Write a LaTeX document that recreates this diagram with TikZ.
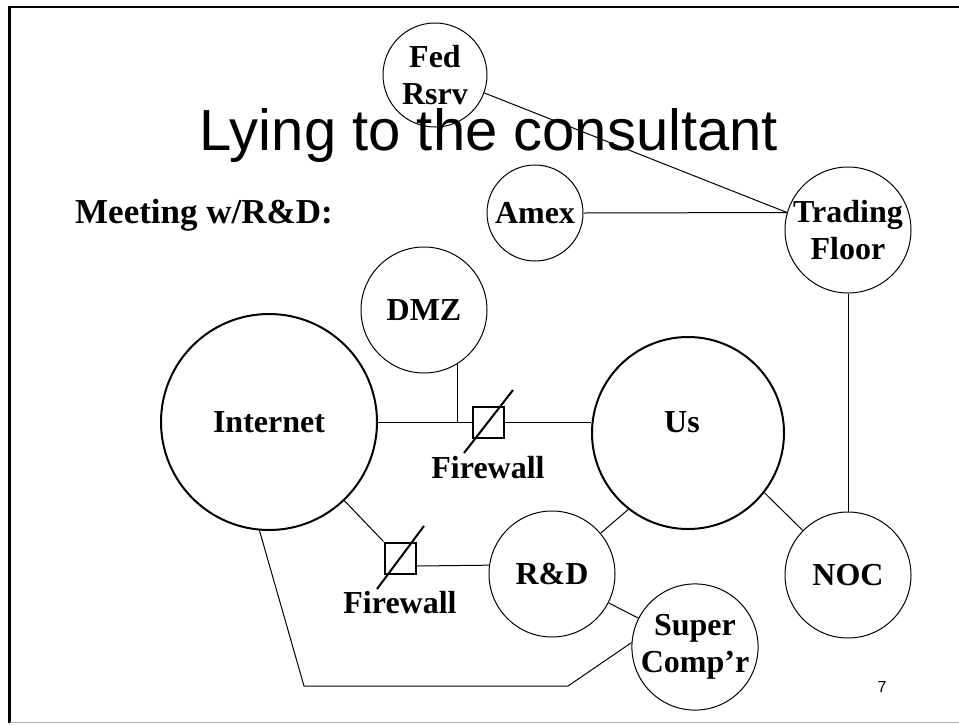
\documentclass[tikz,border=0pt]{standalone}
\usepackage{fontspec}
\setmainfont{Liberation Serif}
\newfontfamily\titlefont{Liberation Sans}
\begin{document}
\begin{tikzpicture}[x=1pt,y=-1pt,
  net/.style={circle,draw,line width=1pt,inner sep=0pt,align=center,
    font=\fontsize{32}{37}\selectfont\bfseries},
  bignet/.style={net,line width=2pt},
  link/.style={line width=1pt},
  fwbox/.style={draw,line width=2pt,minimum size=31pt,inner sep=0pt},
  fwslash/.style={line width=2pt},
  lbl/.style={font=\fontsize{32}{37}\selectfont\bfseries,inner sep=0pt}]
\useasboundingbox (0,0) rectangle (959,724);

% slide frame: dark top and left edges, light bottom edge
\coordinate (ftl) at (9.5,7);
\coordinate (ftr) at (959,7);
\coordinate (fbl) at (9.5,722.5);
\coordinate (fbr) at (959,722.5);
\draw[line width=2.5pt] (ftr) -- (ftl) -- (fbl);
\draw[line width=1.5pt,black!30] (fbl) -- (fbr);

% networks
\node[net,minimum size=104pt] (fed) at (435,75) {Fed\\Rsrv};
\node[net,minimum size=96pt] (amex) at (535,213) {Amex};
\node[net,minimum size=126pt] (tf) at (848,230) {Trading\\Floor};
\node[net,minimum size=126pt] (dmz) at (424,310) {DMZ};
\node[bignet,minimum size=216pt] (inet) at (269,422) {Internet};
\node[bignet,minimum size=192pt] (us) at (688,433) {};
\node[lbl] (ustext) at (682,422) {Us};
\node[net,minimum size=126pt] (rd) at (552,574) {R\&D};
\node[net,minimum size=126pt] (sc) at (695,647) {Super\\Comp’r};
\node[net,minimum size=126pt] (noc) at (848,575) {NOC};

% title and heading
\node[font=\titlefont\fontsize{58}{64}\selectfont,inner sep=0pt,anchor=base] (title) at (489,150) {Lying to the consultant};
\node[font=\fontsize{35}{40}\selectfont\bfseries,inner sep=0pt,anchor=west] (meet) at (75,215) {Meeting w/R\&D:};

% firewalls
\node[fwbox] (fw1) at (488,422) {};
\node[fwbox] (fw2) at (400,558) {};
\draw[fwslash] ([shift={(-24,31)}]fw1.center) -- ([shift={(25,-32)}]fw1.center);
\draw[fwslash] ([shift={(-23,31)}]fw2.center) -- ([shift={(24,-32)}]fw2.center);
\node[lbl] (fw1lbl) at (488,468) {Firewall};
\node[lbl] (fw2lbl) at (400,603) {Firewall};

% connectors
\draw[link] (inet.east |- fw1.west) -- (fw1.west);
\draw[link] (fw1.east) -- (fw1.east -| us.west);
\draw[link] (dmz.-58) -- (dmz.-58 |- fw1.west);
\draw[link] (inet) -- (fw2.north west);
\draw[link] ([yshift=-8pt]fw2.east) -- (rd.172);
\draw[link] (rd.40) -- (us.232);
\draw[link] (rd) -- (sc);
\draw[link] (us.-38) -- (noc);
\draw[link] (tf.south) -- (noc.north);
\draw[link] (amex.east) -- (tf.164);
\draw[link] (fed.-20) -- (tf.164);
\coordinate (b1) at (304,686);
\coordinate (b2) at (568,686);
\draw[link] (inet.-95) -- (b1) -- (b2) -- (sc.176);

% page number
\node[font=\titlefont\fontsize{16}{18}\selectfont,inner sep=0pt] (pg) at (882,687) {7};
\end{tikzpicture}
\end{document}
